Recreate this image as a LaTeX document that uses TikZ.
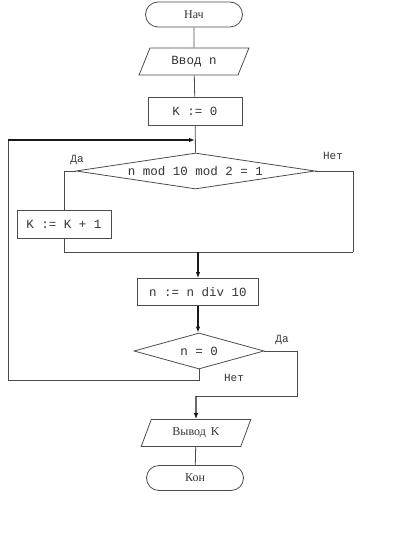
\documentclass[tikz,border=0pt]{standalone}
\usepackage{fontspec}
\setmainfont{Liberation Serif}
\newfontfamily\monof{Liberation Mono}
\usetikzlibrary{shapes.geometric,shapes.misc,arrows.meta}
\begin{document}
\begin{tikzpicture}[x=1pt,y=-1pt,
  ln/.style={draw=black!70,line width=0.8pt},
  arr/.style={draw=black!90,line width=1.1pt,-{Latex[length=6pt,width=4.5pt]}},
  term/.style={rounded rectangle,ln,minimum width=97pt,minimum height=25pt,inner sep=0pt,font=\fontsize{12}{14}\selectfont,text=black!80},
  io/.style={trapezium,trapezium left angle=62.6,trapezium right angle=117.4,trapezium stretches=true,ln,minimum width=110pt,minimum height=27pt,inner sep=0pt,text=black!80},
  proc/.style={rectangle,ln,inner sep=0pt,font=\monof\fontsize{12.5}{14}\selectfont,text=black!80},
  dec/.style={diamond,ln,aspect=6,inner sep=0pt,font=\monof\fontsize{12.5}{14}\selectfont,text=black!80},
  lbl/.style={font=\monof\fontsize{11}{13}\selectfont,text=black!80,inner sep=0pt}]
\useasboundingbox (0,0) rectangle (400,537);
\node[term] (nach) at (194,14.5) {Нач};
\node[io,font=\monof\fontsize{12.5}{14}\selectfont] (vvod) at (194,61.5) {Ввод n};
\node[proc,minimum width=94pt,minimum height=28pt] (k0) at (195,111) {K := 0};
\node[dec,minimum width=239pt,minimum height=36pt] (d1) at (195.5,171) {n mod 10 mod 2 = 1};
\node[proc,minimum width=94pt,minimum height=28pt] (kk1) at (64,224) {K := K + 1};
\node[proc,minimum width=121pt,minimum height=27pt] (div) at (198,292) {n := n div 10};
\node[dec,minimum width=130pt,minimum height=36pt] (d2) at (199,351) {n = 0};
\node[io,font=\fontsize{12}{14}\selectfont] (vyv) at (196,433) {Вывод\, K};
\node[term] (kon) at (195,478) {Кон};
\coordinate (join) at (195,140);
\coordinate (lt) at (8,140);
\coordinate (lb) at (8,380);
\coordinate (mr) at (353,252);
\coordinate (m) at (198,252);
\coordinate (r2) at (297,396);
\coordinate (o2) at (196,396);
\node[lbl] (da1) at (77,160) {Да};
\node[lbl] (net1) at (333,156) {Нет};
\node[lbl] (da2) at (282,340) {Да};
\node[lbl] (net2) at (234,378) {Нет};
\draw[ln] (nach) -- (vvod);
\draw[ln] (vvod) -- (k0);
\draw[ln] (k0) -- (d1.north);
\draw[ln] (d1.west) -| (kk1.north);
\draw[ln] (kk1.south) |- (mr);
\draw[ln] (d1.east) -| (mr);
\draw[arr] (m) -- (div.north);
\draw[arr] (div.south) -- (div.south |- d2.north);
\draw[ln] (d2.south) |- (lb) -- (lt);
\draw[arr] (lt) -- (join);
\draw[ln] (d2.east) -| (r2) -- (o2);
\draw[arr] (o2) -- (vyv.north);
\draw[ln] (vyv) -- (kon);
\end{tikzpicture}
\end{document}
